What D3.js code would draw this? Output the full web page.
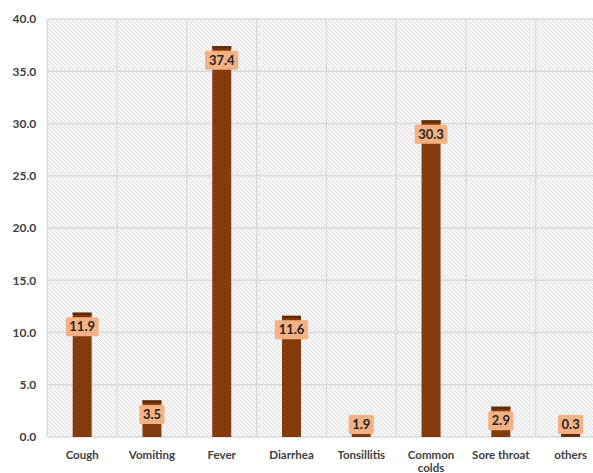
<!DOCTYPE html>
<html><head><meta charset="utf-8">
<script src="https://cdn.jsdelivr.net/npm/d3@7"></script>
<style>html,body{margin:0;padding:0;background:#fff;}svg{display:block;}</style>
</head><body>
<script>
const categories = ["Cough","Vomiting","Fever","Diarrhea","Tonsillitis","Common colds","Sore throat","others"];
const values = [11.9,3.5,37.4,11.6,1.9,30.3,2.9,0.3];
const yTicks = [0,5,10,15,20,25,30,35,40];

(function(){
const W = 593, H = 473;
const svg = d3.select("body").append("svg").attr("width",W).attr("height",H);
const pLeft = 47.3, pRight = 605.5, pTop = 19, pBottom = 437;

const x = d3.scaleBand().domain(categories).range([pLeft,pRight]).padding(0);
const y = d3.scaleLinear().domain([0,40]).range([pBottom,pTop]);

const defs = svg.append("defs");
const pat = defs.append("pattern").attr("id","hatch").attr("patternUnits","userSpaceOnUse")
  .attr("width",4).attr("height",4);
pat.append("rect").attr("width",4).attr("height",4).attr("fill","#f6f6f6");
pat.append("path").attr("d","M-1,-1 L5,5 M-1,3 L1,5 M3,-1 L5,1").attr("stroke","#dedede").attr("stroke-width",1);

svg.append("rect").attr("x",pLeft).attr("y",pTop).attr("width",pRight-pLeft).attr("height",pBottom-pTop).attr("fill","url(#hatch)");

// grid
svg.append("g").selectAll("line").data(yTicks).join("line")
  .attr("x1",pLeft).attr("x2",pRight).attr("y1",d=>y(d)).attr("y2",d=>y(d))
  .attr("stroke","#d9d9d9").attr("stroke-width",1.3);
svg.append("g").selectAll("line").data(categories.concat(["__end"])).join("line")
  .attr("x1",(d,i)=>pLeft+i*x.bandwidth()).attr("x2",(d,i)=>pLeft+i*x.bandwidth())
  .attr("y1",pTop).attr("y2",pBottom)
  .attr("stroke","#d9d9d9").attr("stroke-width",1.3);

const font = "Lato, 'Open Sans', sans-serif";
// y axis labels
const yAxis = d3.axisLeft(y).tickValues(yTicks).tickFormat(d3.format(".1f")).tickSize(0).tickPadding(11);
const ga = svg.append("g").attr("transform",`translate(${pLeft},0)`).call(yAxis);
ga.select(".domain").remove();
ga.selectAll("text").attr("font-family",font).attr("font-weight","bold")
  .attr("font-size","12px").attr("fill","#404040");

// x axis labels
const xAxis = d3.axisBottom(x).tickSize(0).tickPadding(0);
const gx = svg.append("g").attr("transform",`translate(0,${pBottom})`).call(xAxis);
gx.select(".domain").remove();
gx.selectAll("text").attr("font-family",font).attr("font-weight","bold")
  .attr("font-size","11.5px").attr("fill","#404040").attr("dy",null).attr("y",0)
  .each(function(d){
    const t = d3.select(this); t.text(null);
    const words = d==="Common colds" ? ["Common","colds"] : [d];
    words.forEach((w,i)=>t.append("tspan").attr("x",0).attr("y",22+i*13).text(w));
  });

// bars
const bw = 19;
svg.append("g").selectAll("rect").data(values).join("rect")
  .attr("x",(d,i)=>x(categories[i])+x.bandwidth()/2-bw/2)
  .attr("y",d=>y(d)).attr("width",bw).attr("height",d=>y(0)-y(d))
  .attr("fill","#843c0c");
svg.append("g").selectAll("rect").data(values).join("rect")
  .attr("x",(d,i)=>x(categories[i])+x.bandwidth()/2-bw/2)
  .attr("y",d=>y(d)).attr("width",bw).attr("height",2.5)
  .attr("fill","#5e2a08");

// labels
const lg = svg.append("g");
values.forEach((v,i)=>{
  const cx = x(categories[i])+x.bandwidth()/2;
  const cy = Math.min(y(v)+14, 424.5);
  const g = lg.append("g");
  const t = g.append("text").attr("x",cx).attr("y",cy).attr("dy","0.36em").attr("text-anchor","middle")
    .attr("font-family",font).attr("font-weight","bold").attr("font-size","13px")
    .attr("fill","#262626").text(d3.format(".1f")(v));
  const bb = t.node().getBBox();
  g.insert("rect","text").attr("x",cx-(bb.width+7)/2).attr("y",cy-9.5).attr("width",bb.width+7).attr("height",19)
    .attr("fill","#f4b183").attr("rx",1.5);
});
})();
</script>
</body></html>
